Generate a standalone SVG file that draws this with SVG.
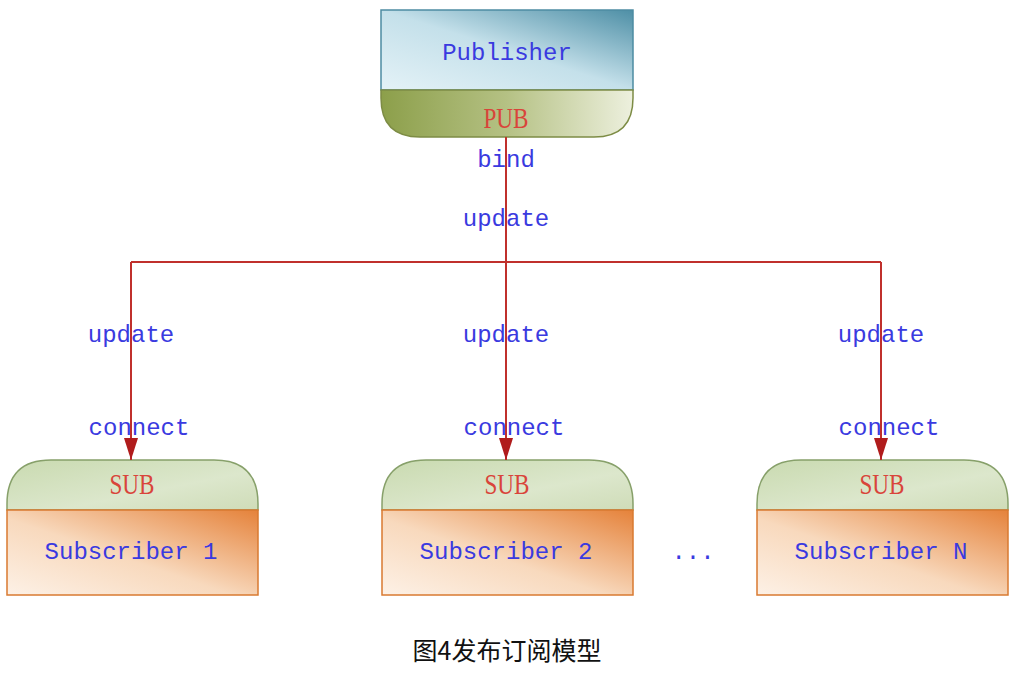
<svg xmlns="http://www.w3.org/2000/svg" width="1036" height="678" viewBox="0 0 1036 678">
<defs>
<linearGradient id="gPub" x1="0" y1="1" x2="1" y2="0">
<stop offset="0" stop-color="#e4f2f7"/><stop offset="0.5" stop-color="#c4e0ea"/><stop offset="1" stop-color="#4e8fa6"/>
</linearGradient>
<linearGradient id="gPubB" x1="0" y1="0" x2="1" y2="0">
<stop offset="0" stop-color="#8c9f4a"/><stop offset="0.5" stop-color="#b5c184"/><stop offset="1" stop-color="#edf0de"/>
</linearGradient>
<linearGradient id="gSubT" x1="0" y1="0" x2="1" y2="1">
<stop offset="0" stop-color="#c9dab0"/><stop offset="0.6" stop-color="#dce7cc"/><stop offset="1" stop-color="#cfdcb8"/>
</linearGradient>
<linearGradient id="gSubB" x1="0" y1="1" x2="1" y2="0">
<stop offset="0" stop-color="#fdf1e6"/><stop offset="0.45" stop-color="#f8d9bd"/><stop offset="1" stop-color="#e5823a"/>
</linearGradient>
<marker id="arr" markerWidth="22" markerHeight="14" refX="22" refY="7" orient="auto" markerUnits="userSpaceOnUse" viewBox="0 0 22 14">
<path d="M0,0 L22,7 L0,14 Z" fill="#b01c1c"/>
</marker>
<style>
.lbl{font-family:"Liberation Mono",monospace;font-size:24px;fill:#3a3ae0;text-anchor:middle}
.tag{font-family:"Liberation Serif",serif;font-size:30px;fill:#d9443a;text-anchor:middle}
.ln{fill:none;stroke:#c0302c;stroke-width:2}
.pubT{fill:url(#gPub);stroke:#4d8ca2;stroke-width:1.5}
.pubB{fill:url(#gPubB);stroke:#7d8c45;stroke-width:1.5}
.subT{fill:url(#gSubT);stroke:#87a06a;stroke-width:1.5}
.subB{fill:url(#gSubB);stroke:#d97a30;stroke-width:1.5}
</style>
</defs>
<rect width="1036" height="678" fill="#ffffff"/>

<g id="publisher">
<rect class="pubT" x="381" y="10" width="252" height="80"/>
<path class="pubB" d="M381,90 L633,90 L633,98 Q633,137 594,137 L420,137 Q381,137 381,98 Z"/>
<text class="lbl" x="507" y="60">Publisher</text>
<text class="tag" x="506" y="128" textLength="45" lengthAdjust="spacingAndGlyphs">PUB</text>
</g>

<g id="subscriber1">
<path class="subT" d="M7,510 L7,504 Q7,460 51,460 L214,460 Q258,460 258,504 L258,510 Z"/>
<rect class="subB" x="7" y="510" width="251" height="85"/>
<text class="tag" x="132" y="494" textLength="45" lengthAdjust="spacingAndGlyphs">SUB</text>
<text class="lbl" x="131" y="559">Subscriber 1</text>
</g>

<g id="subscriber2">
<path class="subT" d="M382,510 L382,504 Q382,460 426,460 L589,460 Q633,460 633,504 L633,510 Z"/>
<rect class="subB" x="382" y="510" width="251" height="85"/>
<text class="tag" x="507" y="494" textLength="45" lengthAdjust="spacingAndGlyphs">SUB</text>
<text class="lbl" x="506" y="559">Subscriber 2</text>
</g>

<g id="subscriberN">
<path class="subT" d="M757,510 L757,504 Q757,460 801,460 L964,460 Q1008,460 1008,504 L1008,510 Z"/>
<rect class="subB" x="757" y="510" width="251" height="85"/>
<text class="tag" x="882" y="494" textLength="45" lengthAdjust="spacingAndGlyphs">SUB</text>
<text class="lbl" x="881" y="559">Subscriber N</text>
</g>

<g id="ellipsis">
<text class="lbl" x="693" y="559">...</text>
</g>

<g id="connectors">
<text class="lbl" x="506" y="167">bind</text>
<text class="lbl" x="506" y="226">update</text>
<text class="lbl" x="131" y="342">update</text>
<text class="lbl" x="506" y="342">update</text>
<text class="lbl" x="881" y="342">update</text>
<text class="lbl" x="139" y="435">connect</text>
<text class="lbl" x="514" y="435">connect</text>
<text class="lbl" x="889" y="435">connect</text>
<path class="ln" d="M506,137 L506,460" marker-end="url(#arr)"/>
<path class="ln" d="M131,262 L881,262"/>
<path class="ln" d="M131,262 L131,460" marker-end="url(#arr)"/>
<path class="ln" d="M881,262 L881,460" marker-end="url(#arr)"/>
</g>

<text x="507" y="660" font-family="'Noto Sans CJK SC',sans-serif" font-size="25" fill="#111" text-anchor="middle">图4发布订阅模型</text>
</svg>
